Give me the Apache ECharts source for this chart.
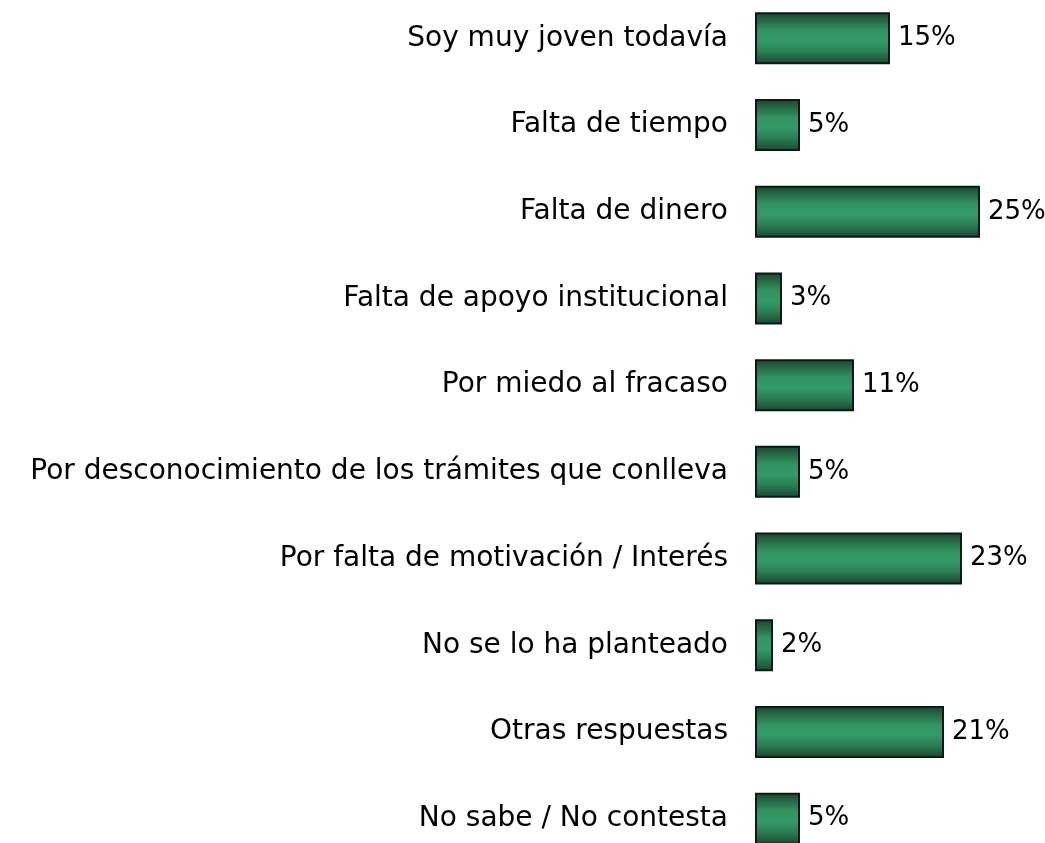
<!DOCTYPE html>
<html>
<head>
<meta charset="utf-8">
<script src="https://cdn.jsdelivr.net/npm/echarts@6/dist/echarts.min.js"></script>
<style>
  html, body { margin: 0; padding: 0; background: #fff; overflow: hidden; }
  /* el área de categorías sobresale un poco del lienzo, como en el original */
  #chart { width: 1045px; height: 867px; margin-top: -5px; }
</style>
</head>
<body>
<div id="chart"></div>
<script>
// categorías y porcentajes
const categories = [
  "Soy muy joven todavía",
  "Falta de tiempo",
  "Falta de dinero",
  "Falta de apoyo institucional",
  "Por miedo al fracaso",
  "Por desconocimiento de los trámites que conlleva",
  "Por falta de motivación / Interés",
  "No se lo ha planteado",
  "Otras respuestas",
  "No sabe / No contesta",
];
const values = [15, 5, 25, 3, 11, 5, 23, 2, 21, 5];

const myChart = echarts.init(document.getElementById("chart"));

const option = {
  animation: false,
  grid: {
    left: 755,
    right: 20,
    top: 0,
    bottom: 0,
    containLabel: false,
  },
  xAxis: {
    type: "value",
    min: 0,
    max: 30,
    show: false,
  },
  yAxis: {
    type: "category",
    inverse: true,
    data: categories,
    axisLine: { show: false },
    axisTick: { show: false },
    splitLine: { show: false },
    axisLabel: {
      margin: 27,
      color: "#000",
      fontSize: 28,
      fontFamily: "DejaVu Sans",
      padding: [7, 0, 0, 0],
    },
  },
  series: [
    {
      type: "bar",
      data: values,
      barWidth: 52,
      itemStyle: {
        borderColor: "#0b1a12",
        borderWidth: 2,
        color: new echarts.graphic.LinearGradient(0, 0, 0, 1, [
          { offset: 0, color: "#1b4431" },
          { offset: 0.35, color: "#31935f" },
          { offset: 0.55, color: "#349a6a" },
          { offset: 0.75, color: "#2b7f55" },
          { offset: 1, color: "#1b4431" },
        ]),
      },
      label: {
        show: true,
        position: "right",
        distance: 8,
        color: "#000",
        fontSize: 26,
        fontFamily: "DejaVu Sans",
        padding: [6, 0, 0, 0],
        formatter: "{c}%",
      },
    },
  ],
};
myChart.setOption(option);
</script>
</body>
</html>
